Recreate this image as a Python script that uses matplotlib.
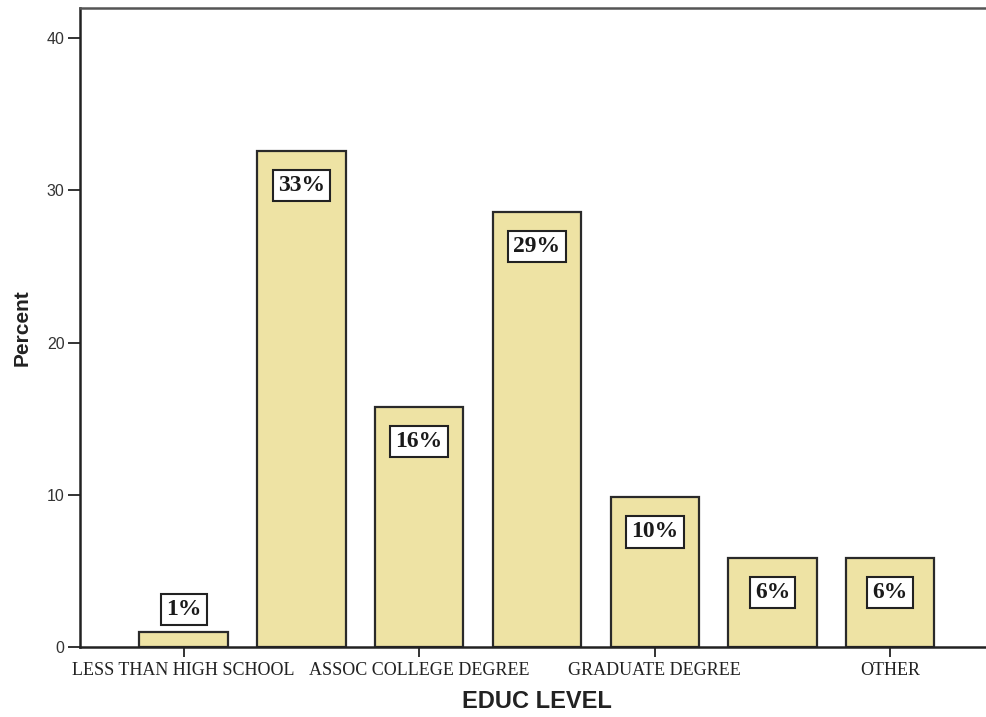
import matplotlib.pyplot as plt

# education level breakdown (percent of respondents)
categories = ['LESS THAN HIGH SCHOOL', 'HIGH SCHOOL', 'ASSOC COLLEGE DEGREE',
              'BACHELORS DEGREE', 'GRADUATE DEGREE', 'PROFESSIONAL DEGREE', 'OTHER']
percent = [1.0, 32.6, 15.8, 28.6, 9.85, 5.85, 5.85]
shown_ticks = [0, 2, 4, 6]
yticks = [0, 10, 20, 30, 40]

fig = plt.figure(figsize=(9.87, 7.17), dpi=100)
ax = fig.add_axes([0.081, 0.0976, 0.926, 0.8914])

x = list(range(len(categories)))
ax.bar(x, percent, width=0.75, color='#EEE3A4', edgecolor='#2a2a2a', linewidth=1.6, zorder=2)

box = dict(boxstyle='square,pad=0.22', facecolor='white', edgecolor='#222222', linewidth=1.5)
for xi, v in zip(x, percent):
    txt = '%d%%' % round(v)
    # short bars get their label above the bar, the rest inside near the top
    dy = 16 if v < 3 else -25
    ax.annotate(txt, (xi, v), xytext=(0, dy), textcoords='offset points',
                ha='center', va='center', fontsize=17, fontweight='bold',
                family='Liberation Serif', color='#1a1a1a', bbox=box, zorder=3)

ax.set_xlim(-0.88, 6.88)
ax.set_ylim(0, 42)

ax.set_xticks([x[i] for i in shown_ticks])
ax.set_xticklabels([categories[i] for i in shown_ticks], family='Liberation Serif',
                   fontsize=13, color='#222222')
ax.set_yticks(yticks)
ax.set_yticklabels([str(t) for t in yticks], family='Liberation Sans', fontsize=11.5, color='#333333')
ax.tick_params(axis='x', length=7, width=1.4, color='#333333', pad=4)
ax.tick_params(axis='y', length=9, width=1.4, color='#333333', pad=2)

for side in ['left', 'bottom']:
    ax.spines[side].set_linewidth(1.8)
    ax.spines[side].set_color('#222222')
ax.spines['top'].set_linewidth(1.8)
ax.spines['top'].set_color('#555555')
ax.spines['right'].set_visible(False)

ax.set_ylabel('Percent', family='Liberation Sans', fontweight='bold', fontsize=15,
              color='#222222', labelpad=11)
ax.set_xlabel('EDUC LEVEL', family='Liberation Sans', fontweight='bold', fontsize=17,
              color='#222222', labelpad=8)

fig.savefig('out.png', dpi=100)
